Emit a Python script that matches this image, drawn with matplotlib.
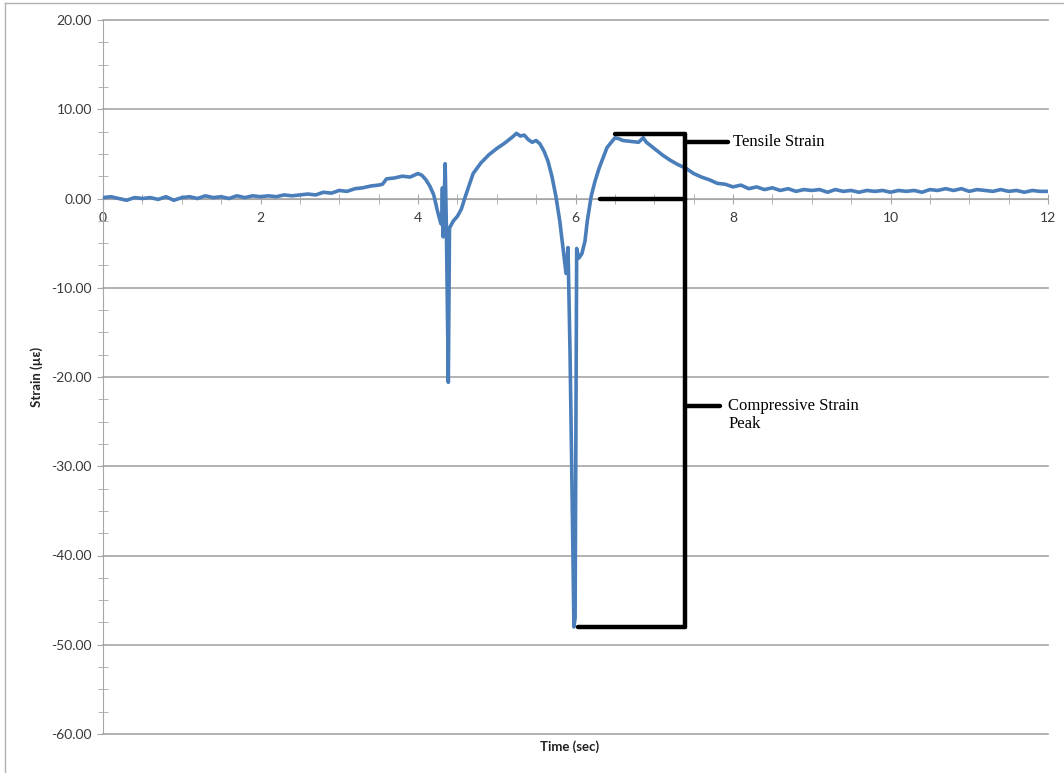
import matplotlib
matplotlib.use("Agg")
import matplotlib.pyplot as plt
from matplotlib.ticker import MultipleLocator, FormatStrFormatter
from matplotlib.lines import Line2D

# ---- data ----
time_s = [0.0, 0.1, 0.2, 0.3, 0.4, 0.5, 0.6, 0.7, 0.8, 0.9,
          1.0, 1.1, 1.2, 1.3, 1.4, 1.5, 1.6, 1.7, 1.8, 1.9,
          2.0, 2.1, 2.2, 2.3, 2.4, 2.5, 2.6, 2.7, 2.8, 2.9,
          3.0, 3.1, 3.2, 3.3, 3.4, 3.5, 3.55, 3.6, 3.7, 3.8, 3.9,
          4.0, 4.05, 4.1, 4.15, 4.2, 4.25, 4.29, 4.30, 4.31, 4.32, 4.345, 4.36,
          4.385, 4.40, 4.45, 4.5, 4.55, 4.6, 4.7, 4.8, 4.9,
          5.0, 5.1, 5.2, 5.25, 5.3, 5.35, 5.4, 5.45, 5.5, 5.55, 5.6, 5.65, 5.7,
          5.75, 5.8, 5.84, 5.88, 5.905, 5.93, 5.955, 5.98, 5.995, 6.005, 6.015,
          6.04, 6.08, 6.12, 6.15, 6.2, 6.25, 6.3, 6.4, 6.5, 6.55, 6.6, 6.7, 6.8,
          6.86, 6.9, 7.0, 7.1, 7.2, 7.3, 7.4, 7.5, 7.6, 7.7, 7.8, 7.9,
          8.0, 8.1, 8.2, 8.3, 8.4, 8.5, 8.6, 8.7, 8.8, 8.9,
          9.0, 9.1, 9.2, 9.3, 9.4, 9.5, 9.6, 9.7, 9.8, 9.9,
          10.0, 10.1, 10.2, 10.3, 10.4, 10.5, 10.6, 10.7, 10.8, 10.9,
          11.0, 11.1, 11.2, 11.3, 11.4, 11.5, 11.6, 11.7, 11.8, 11.9, 12.0]
strain_ue = [0.1, 0.2, 0.0, -0.2, 0.1, 0.0, 0.1, -0.1, 0.2, -0.2,
             0.1, 0.2, 0.0, 0.3, 0.1, 0.2, 0.0, 0.3, 0.1, 0.3,
             0.2, 0.3, 0.2, 0.4, 0.3, 0.4, 0.5, 0.4, 0.7, 0.6,
             0.9, 0.8, 1.1, 1.2, 1.4, 1.5, 1.6, 2.2, 2.3, 2.5, 2.4,
             2.8, 2.6, 2.1, 1.4, 0.4, -1.5, -2.8, -2.9, 1.2, -4.3, 3.9, -3.0,
             -20.6, -3.3, -2.5, -2.0, -1.2, 0.2, 2.8, 4.0, 4.9,
             5.6, 6.2, 6.9, 7.3, 7.0, 7.1, 6.6, 6.3, 6.5, 6.1, 5.3, 4.2, 2.5,
             0.3, -2.5, -5.5, -8.4, -5.5, -17.0, -32.0, -48.0, -47.0, -25.0, -5.6,
             -6.7, -6.2, -4.8, -2.5, 0.3, 2.0, 3.4, 5.7, 6.8, 6.7, 6.5, 6.4, 6.3,
             6.8, 6.3, 5.6, 4.9, 4.3, 3.8, 3.4, 2.8, 2.4, 2.1, 1.7, 1.6,
             1.3, 1.5, 1.1, 1.3, 1.0, 1.2, 0.9, 1.1, 0.8, 1.0,
             0.9, 1.0, 0.7, 1.0, 0.8, 0.9, 0.7, 0.9, 0.8, 0.9,
             0.7, 0.9, 0.8, 0.9, 0.7, 1.0, 0.9, 1.1, 0.9, 1.1,
             0.8, 1.0, 0.9, 0.8, 1.0, 0.8, 0.9, 0.7, 0.9, 0.8, 0.8]

# annotation bracket (data coordinates)
bracket_x = 7.39
tensile_top = 7.28
tensile_left = 6.50
zero_left = 6.31
peak_val = -48.0
peak_left = 6.03
tensile_tick_y = 6.3
tensile_tick_end = 7.94
comp_tick_y = -23.3
comp_tick_end = 7.84

TICK_FONT = ["Lato", "DejaVu Sans"]
GRID = "#a6a6a6"
TXT = "#3a3a3a"

fig = plt.figure(figsize=(10.64, 7.73), dpi=100)
ax = fig.add_axes([103 / 1064, 1 - 734 / 773, (1048 - 103) / 1064, (734 - 20) / 773])

ax.plot(time_s, strain_ue, color="#4a7ebb", lw=2.6, zorder=3,
        solid_joinstyle="round")

ax.set_xlim(0, 12)
ax.set_ylim(-60, 20)

# axes styling (Excel-like)
for s in ("top", "right"):
    ax.spines[s].set_visible(False)
ax.spines["left"].set_color(GRID)
ax.spines["bottom"].set_color(GRID)
ax.spines["bottom"].set_position(("data", 0))
ax.spines["bottom"].set_zorder(1)

ax.yaxis.set_major_locator(MultipleLocator(10))
ax.yaxis.set_minor_locator(MultipleLocator(2.5))
ax.yaxis.set_major_formatter(FormatStrFormatter("%.2f"))
ax.xaxis.set_major_locator(MultipleLocator(2))
ax.xaxis.set_minor_locator(MultipleLocator(0.5))
ax.xaxis.set_major_formatter(FormatStrFormatter("%d"))

ax.tick_params(axis="y", which="major", direction="out", length=4, color=GRID,
               labelcolor=TXT, labelsize=10, pad=4)
ax.tick_params(axis="y", which="minor", direction="inout", length=7, color=GRID)
ax.tick_params(axis="x", which="both", direction="inout", length=7, color=GRID,
               labelcolor=TXT, labelsize=10, pad=6)
for lab in ax.get_xticklabels() + ax.get_yticklabels():
    lab.set_family(TICK_FONT)

ax.yaxis.grid(True, which="major", color=GRID, lw=1.2)
for gl in ax.get_ygridlines():
    gl.set_clip_on(False)
ax.set_axisbelow(True)

# axis titles
fig.text(37 / 1064, 1 - 377 / 773, "Strain (µε)", rotation=90, ha="center",
         va="center", fontsize=9.5, fontweight="bold", family=TICK_FONT, color="#222222")
fig.text(570 / 1064, 1 - 747 / 773, "Time (sec)", ha="center", va="center",
         fontsize=9.5, fontweight="bold", family=TICK_FONT, color="#222222")

# annotation bracket
ann = dict(color="black", lw=3.2, solid_capstyle="round", zorder=5, clip_on=False)
ax.plot([tensile_left, bracket_x], [tensile_top, tensile_top], **ann)
ax.plot([zero_left, bracket_x], [0, 0], **ann)
ax.plot([peak_left, bracket_x], [peak_val, peak_val], **ann)
ax.plot([bracket_x, bracket_x], [tensile_top, peak_val], **ann)
ax.plot([bracket_x, tensile_tick_end], [tensile_tick_y, tensile_tick_y], **ann)
ax.plot([bracket_x, comp_tick_end], [comp_tick_y, comp_tick_y], **ann)

ax.text(8.0, tensile_tick_y, "Tensile Strain", ha="left", va="center",
        fontsize=12, family="Liberation Serif", color="black")
ax.text(7.94, comp_tick_y + 1.0, "Compressive Strain\nPeak", ha="left", va="top",
        fontsize=12, family="Liberation Serif", color="black", linespacing=1.2)

# outer chart border (left and top edges visible)
fig.add_artist(Line2D([5 / 1064, 5 / 1064], [0, 1 - 3 / 773], color="#b0b0b0", lw=1))
fig.add_artist(Line2D([5 / 1064, 1], [1 - 3 / 773, 1 - 3 / 773], color="#b0b0b0", lw=1))

fig.savefig("out.png", dpi=100)
